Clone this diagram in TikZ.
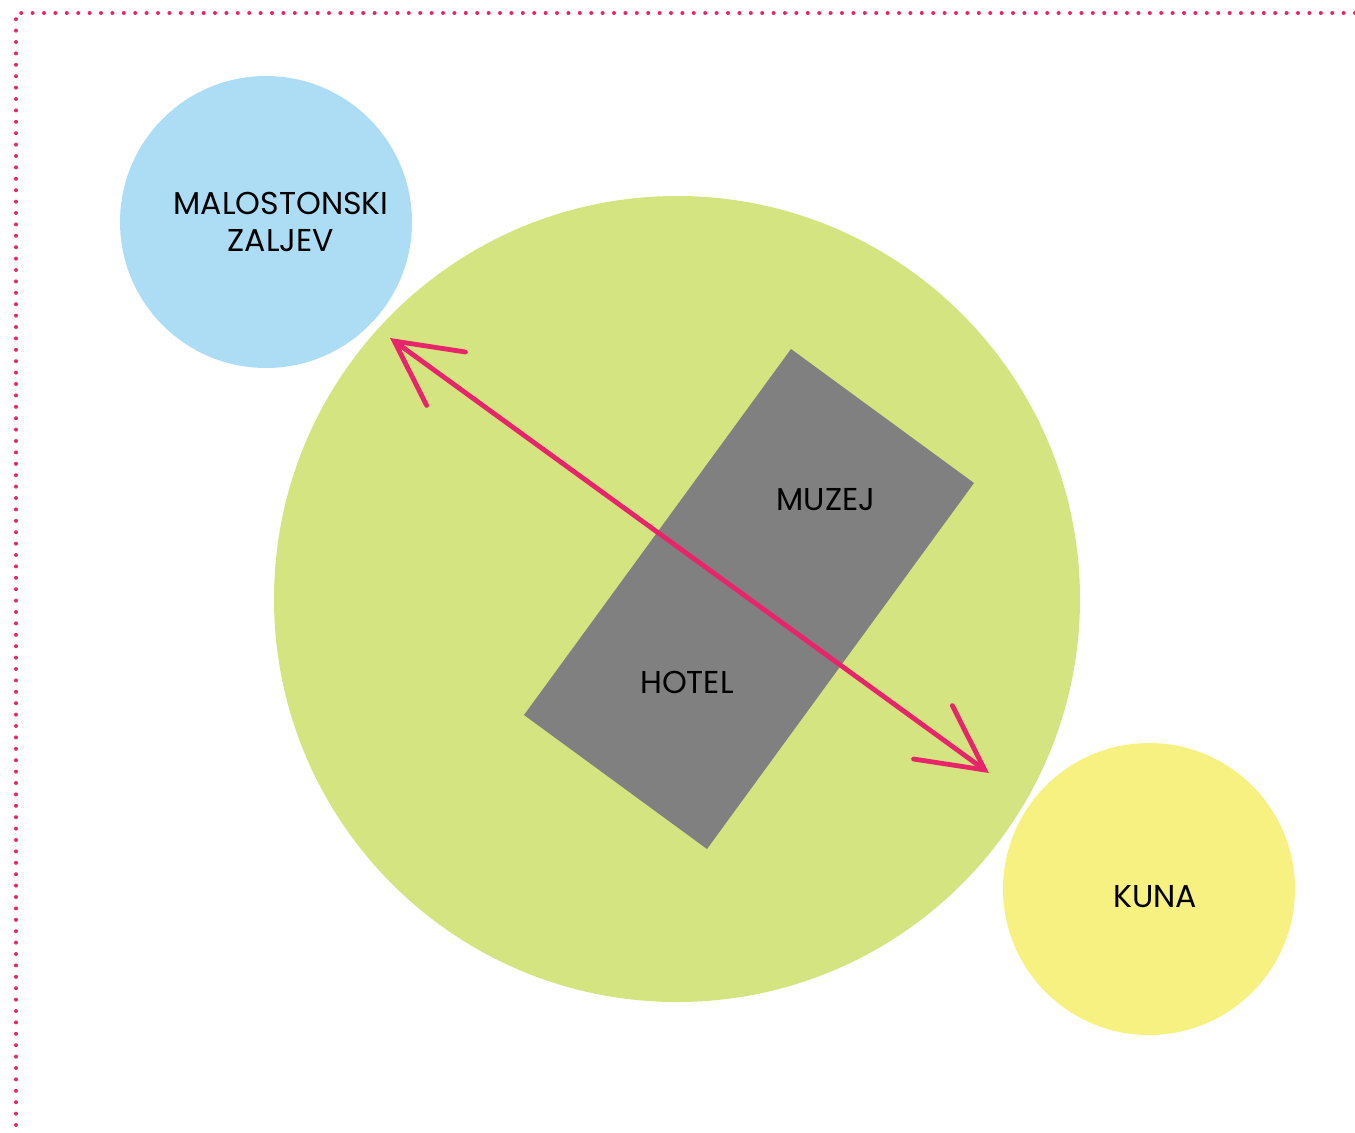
\documentclass[tikz,border=0pt]{standalone}
\usepackage{fontspec}
\setmainfont{Poppins}
\usetikzlibrary{arrows.meta}
\definecolor{bordercol}{HTML}{E8246A}
\definecolor{seacol}{HTML}{ADDDF5}
\definecolor{parkcol}{HTML}{D4E481}
\definecolor{kunacol}{HTML}{F6F181}
\definecolor{housecol}{HTML}{808080}
\tikzset{
 place/.style={font=\fontsize{15.8}{18.5}\selectfont,align=center,text=black},
 route/.style={draw=bordercol,line width=2.4pt,line cap=round,
  {Straight Barb[length=32pt,width=33pt,line cap=round]}-{Straight Barb[length=32pt,width=33pt,line cap=round]}}
}
\begin{document}
\begin{tikzpicture}[x=0.5pt,y=-0.5pt]
 \useasboundingbox (0,0) rectangle (1355,1132);
 \draw[bordercol,line width=2pt,line cap=round,dash pattern=on 0pt off 5.7pt](1355,13)--(16,13)--(16,1132);
 \fill[seacol](266,222) circle (146);
 \fill[parkcol](677,599) circle (403);
 \fill[kunacol](1149,889) circle (146);
 \fill[housecol](791,349)--(974,483)--(707,849)--(524,715)--cycle;
 \node[place] (zaljev) at (281,222) {MALOSTONSKI\\ZALJEV};
 \node[place] (muzej) at (826,500) {MUZEJ};
 \node[place] (hotel) at (687,682) {HOTEL};
 \node[place] (kuna) at (1155,897) {KUNA};
 \coordinate (from) at (390,338);
 \coordinate (to) at (989,773);
 \draw[route](from)--(to);
\end{tikzpicture}
\end{document}
